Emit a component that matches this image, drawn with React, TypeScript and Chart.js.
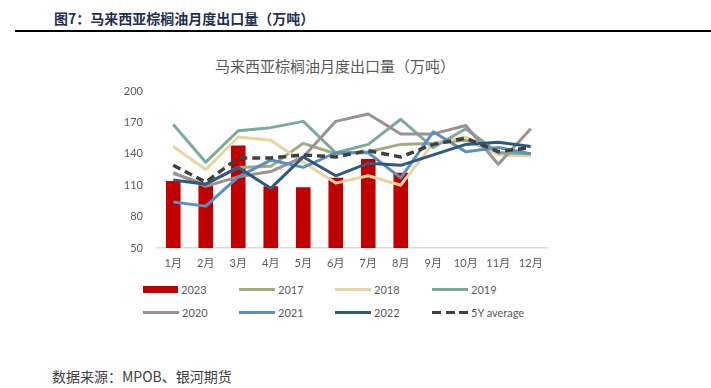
import React, { useEffect, useRef } from "react";
import { Chart, registerables } from "chart.js";

Chart.register(...registerables);

const months = ["1月", "2月", "3月", "4月", "5月", "6月", "7月", "8月", "9月", "10月", "11月", "12月"];
const y2023 = [114, 110, 148, 109, 108, 117, 135, 122];
const y2017 = [121, 111, 127, 128, 150, 140, 142, 149, 150, 153, 141, 139];
const y2018 = [147, 125, 156, 153, 132, 112, 119, 110, 150, 156, 139, 138];
const y2019 = [168, 132, 162, 165, 171, 141, 149, 173, 146, 164, 141, 140];
const y2020 = [122, 109, 118, 123, 137, 171, 178, 159, 159, 167, 130, 164];
const y2021 = [94, 90, 118, 134, 127, 141, 141, 117, 161, 142, 146, 140];
const y2022 = [115, 111, 127, 107, 137, 119, 131, 129, 139, 149, 151, 147];
const avg5Y = [129, 113, 136, 136, 139, 137, 143, 137, 149, 155, 142, 146];

const yTicksMin = 50;
const yTicksMax = 200;
const yTickStep = 30;

const C2023 = "#C00000";
const C2017 = "#A3AC7E";
const C2018 = "#EAD39E";
const C2019 = "#7AAA99";
const C2020 = "#9C9192";
const C2021 = "#5B8FC1";
const C2022 = "#2F5A7E";
const CAVG = "#404040";

const FONT = "Lato, 'Noto Sans CJK SC', sans-serif";

const legendItems = [
  { label: "2023", color: C2023, kind: "box", x: 143, y: 289 },
  { label: "2017", color: C2017, kind: "line", x: 239, y: 289 },
  { label: "2018", color: C2018, kind: "line", x: 335, y: 289 },
  { label: "2019", color: C2019, kind: "line", x: 432, y: 289 },
  { label: "2020", color: C2020, kind: "line", x: 143, y: 312 },
  { label: "2021", color: C2021, kind: "line", x: 239, y: 312 },
  { label: "2022", color: C2022, kind: "line", x: 335, y: 312 },
  { label: "5Y average", color: CAVG, kind: "dash", x: 432, y: 312 },
];

export default function App() {
  const ref = useRef<HTMLCanvasElement | null>(null);

  useEffect(() => {
    if (!ref.current) return;
    const line = (label: string, data: number[], color: string, order: number, dash?: number[]) => ({
      type: "line" as const,
      label,
      data,
      borderColor: color,
      backgroundColor: color,
      borderWidth: dash ? 3.5 : 3,
      borderDash: dash || [],
      pointRadius: 0,
      tension: 0,
      fill: false,
      borderJoinStyle: "round" as const,
      order,
    });
    const chart = new Chart(ref.current, {
      type: "bar",
      data: {
        labels: months,
        datasets: [
          {
            type: "bar" as const,
            label: "2023",
            data: y2023,
            backgroundColor: C2023,
            borderWidth: 0,
            barPercentage: 0.9,
            categoryPercentage: 0.5,
            order: 20,
          },
          line("2017", y2017, C2017, 9),
          line("2018", y2018, C2018, 8),
          line("2019", y2019, C2019, 7),
          line("2020", y2020, C2020, 6),
          line("2021", y2021, C2021, 5),
          line("2022", y2022, C2022, 4),
          line("5Y average", avg5Y, CAVG, 1, [8, 5]),
        ] as any,
      },
      options: {
        responsive: false,
        animation: false,
        devicePixelRatio: 1,
        layout: { padding: { top: 11, right: 13, bottom: 0, left: 0 } },
        plugins: { legend: { display: false }, tooltip: { enabled: false }, title: { display: false } },
        scales: {
          x: {
            grid: { display: false, drawTicks: false },
            border: { display: true, color: "#D9D9D9", width: 1.5 },
            ticks: { color: "#595959", font: { size: 11, family: FONT }, padding: 9, maxRotation: 0, autoSkip: false },
            afterFit: (s: any) => {
              s.height = 27;
              s.paddingLeft = 0;
              s.paddingRight = 0;
            },
          },
          y: {
            min: yTicksMin,
            max: yTicksMax,
            grid: { display: false, drawTicks: false },
            border: { display: false },
            ticks: { stepSize: yTickStep, color: "#595959", font: { size: 11, family: FONT }, padding: 14 },
            afterFit: (s: any) => {
              s.width = 57;
              s.paddingTop = 0;
              s.paddingBottom = 0;
            },
          },
        },
      },
    });
    return () => chart.destroy();
  }, []);

  return (
    <div style={{ position: "absolute", left: 0, top: 0, width: 711, height: 388, background: "#fff", overflow: "hidden" }}>
      <div
        style={{
          position: "absolute",
          left: 54,
          top: 9,
          fontFamily: "'Noto Sans CJK SC', sans-serif",
          fontWeight: 700,
          fontSize: 14,
          lineHeight: "18px",
          color: "#1F3050",
          whiteSpace: "nowrap",
        }}
      >
        图7：马来西亚棕榈油月度出口量（万吨）
      </div>
      <div style={{ position: "absolute", left: 15, top: 30, width: 696, height: 2, background: "#000" }} />
      <div
        style={{
          position: "absolute",
          left: 0,
          width: 670,
          top: 56,
          textAlign: "center",
          fontFamily: "'Noto Sans CJK SC', sans-serif",
          fontSize: 15,
          lineHeight: "20px",
          color: "#595959",
          whiteSpace: "nowrap",
        }}
      >
        马来西亚棕榈油月度出口量（万吨）
      </div>
      <canvas ref={ref} width={460} height={195} style={{ position: "absolute", left: 100, top: 80, width: 460, height: 195 }} />
      {legendItems.map((it) => (
        <div key={it.label} style={{ position: "absolute", left: it.x, top: it.y - 8, height: 16, display: "flex", alignItems: "center", whiteSpace: "nowrap" }}>
          {it.kind === "box" && <div style={{ width: 35, height: 7, background: it.color }} />}
          {it.kind === "line" && <div style={{ width: 36, height: 3, background: it.color }} />}
          {it.kind === "dash" && (
            <div style={{ width: 36, height: 3, display: "flex", justifyContent: "space-between" }}>
              <div style={{ width: 9, height: 3, background: it.color }} />
              <div style={{ width: 9, height: 3, background: it.color }} />
              <div style={{ width: 9, height: 3, background: it.color }} />
            </div>
          )}
          <span style={{ marginLeft: 3, fontFamily: FONT, fontSize: 11, color: "#595959" }}>{it.label}</span>
        </div>
      ))}
      <div
        style={{
          position: "absolute",
          left: 52,
          top: 366,
          fontFamily: "'Noto Sans CJK SC', sans-serif",
          fontSize: 14,
          lineHeight: "20px",
          color: "#404040",
          whiteSpace: "nowrap",
        }}
      >
        数据来源：MPOB、银河期货
      </div>
    </div>
  );
}
